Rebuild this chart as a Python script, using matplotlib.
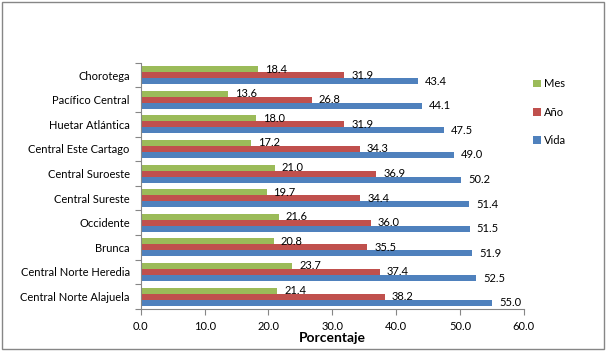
import numpy as np
import matplotlib.pyplot as plt
from matplotlib.patches import Rectangle

plt.rcParams['font.family'] = ['Lato', 'DejaVu Sans']

# data (top to bottom as shown)
regiones = ['Chorotega', 'Pacífico Central', 'Huetar Atlántica', 'Central Este Cartago',
            'Central Suroeste', 'Central Sureste', 'Occidente', 'Brunca',
            'Central Norte Heredia', 'Central Norte Alajuela']
mes = [18.4, 13.6, 18.0, 17.2, 21.0, 19.7, 21.6, 20.8, 23.7, 21.4]
anio = [31.9, 26.8, 31.9, 34.3, 36.9, 34.4, 36.0, 35.5, 37.4, 38.2]
vida = [43.4, 44.1, 47.5, 49.0, 50.2, 51.4, 51.5, 51.9, 52.5, 55.0]

c_mes = '#9BBB59'
c_anio = '#C0504D'
c_vida = '#4F81BD'

fig = plt.figure(figsize=(6.07, 3.51), dpi=100)
ax = fig.add_axes([0.232, 0.12, 0.631, 0.701])

n = len(regiones)
y = np.arange(n)[::-1]
h = 0.245

b_vida = ax.barh(y - h, vida, height=h, color=c_vida, label='Vida')
b_anio = ax.barh(y, anio, height=h, color=c_anio, label='Año')
b_mes = ax.barh(y + h, mes, height=h, color=c_mes, label='Mes')

for bars in (b_vida, b_anio, b_mes):
    ax.bar_label(bars, fmt='%.1f', padding=5, fontsize=8, color='black')

ax.set_xlim(0, 60)
ax.set_ylim(-0.5, n - 0.5)
ax.set_xticks(np.arange(0, 61, 10))
ax.set_xticklabels(['%.1f' % v for v in np.arange(0, 61, 10)], fontsize=8)
ax.set_yticks(np.arange(-0.5, n, 1), minor=False)
ax.set_yticklabels([])
ax.set_yticks(y, minor=True)
ax.set_yticklabels(regiones, minor=True, fontsize=8)
ax.tick_params(axis='y', which='minor', length=0, pad=8)
ax.tick_params(axis='y', which='major', length=4, color='#868686')
ax.tick_params(axis='x', length=4, color='#868686', pad=5)

for s in ['top', 'right']:
    ax.spines[s].set_visible(False)
for s in ['left', 'bottom']:
    ax.spines[s].set_color('#868686')

ax.set_xlabel('Porcentaje', fontsize=10, fontweight='bold', labelpad=0)

handles = [b_mes, b_anio, b_vida]
fig.legend(handles, ['Mes', 'Año', 'Vida'], loc='upper left', bbox_to_anchor=(0.862, 0.805),
           frameon=False, fontsize=8, handlelength=0.7, handleheight=0.7,
           handletextpad=0.3, labelspacing=1.55)

fig.patches.append(Rectangle((0.003, 0.006), 0.992, 0.988, transform=fig.transFigure,
                             fill=False, edgecolor='#868686', linewidth=1))

fig.savefig('out.png', dpi=100)
